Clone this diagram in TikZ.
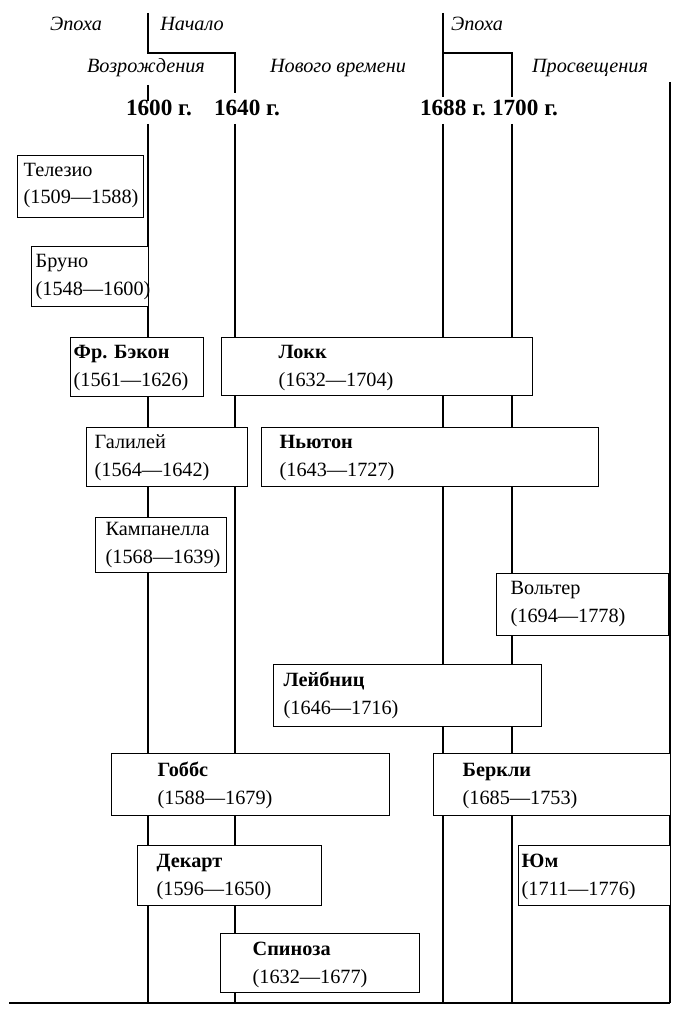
\documentclass[tikz,border=0pt]{standalone}
\usepackage{fontspec}
\setmainfont{Liberation Serif}
\usetikzlibrary{positioning}
\newlength\px
\setlength\px{0.025cm}

\begin{document}
\begin{tikzpicture}[
  x=0.025cm, y=-0.025cm,
  line width=1pt,
  pbox/.style={rectangle, draw, fill=white, anchor=north west, inner sep=0pt},
  ptext/.style={anchor=base west, align=left, inner sep=0pt, font=\fontsize{14.4}{19.9}\selectfont},
  era/.style={font=\fontsize{14.4}{17}\selectfont\itshape, inner sep=1pt},
  year/.style={font=\fontsize{16.5}{19}\selectfont\bfseries, inner sep=0pt},
]
  \useasboundingbox (0,0) rectangle (698,1024);

  % epochs
  \node[era] (ep1) at (76,24) {Эпоха};
  \node[era] (beg) at (192,24) {Начало};
  \node[era] (ren) at (146,68) {Возрождения};
  \node[era] (new) at (338,68) {Нового времени};
  \node[era] (ep2) at (477,24) {Эпоха};
  \node[era] (enl) at (590,68) {Просвещения};

  \draw (148,13) -- (148,53) -- (235,53) -- (235,93);
  \draw (148,85) -- (148,101);
  \draw (443,13) -- (443,97);
  \draw (443,53) -- (512,53) -- (512,97);

  % years
  \node[year] (y1600) at (159,108) {1600 г.};
  \node[year] (y1640) at (247,108) {1640 г.};
  \node[year] (y1688) at (453,108) {1688 г.};
  \node[year] (y1700) at (525,108) {1700 г.};

  \foreach \x in {148,235,443,512}
    \draw (\x,124) -- (\x,1003);
  \draw (670,82) -- (670,1003);
  \draw (9,1003) -- (670,1003);

  % philosophers (text placed at baseline of the dates line)
  \node[pbox, minimum width=126\px, minimum height=62\px] (telesio) at (17,155) {};
  \node[ptext] at ([shift={(6,49)}]telesio.north west) {Телезио\\(1509—1588)};

  \node[pbox, minimum width=117\px, minimum height=60\px] (bruno) at (31,246) {};
  \node[ptext] at ([shift={(4,49)}]bruno.north west) {Бруно\\(1548—1600)};

  \node[pbox, minimum width=133\px, minimum height=59\px] (bacon) at (70,337) {};
  \node[ptext] at ([shift={(3,49)}]bacon.north west) {\textbf{Фр. Бэкон}\\(1561—1626)};

  \node[pbox, minimum width=311\px, minimum height=58\px] (locke) at (221,337) {};
  \node[ptext] at ([shift={(57,49)}]locke.north west) {\textbf{Локк}\\(1632—1704)};

  \node[pbox, minimum width=161\px, minimum height=59\px] (galilei) at (86,427) {};
  \node[ptext] at ([shift={(8,49)}]galilei.north west) {Галилей\\(1564—1642)};

  \node[pbox, minimum width=337\px, minimum height=59\px] (newton) at (261,427) {};
  \node[ptext] at ([shift={(18,49)}]newton.north west) {\textbf{Ньютон}\\(1643—1727)};

  \node[pbox, minimum width=131\px, minimum height=55\px] (campanella) at (95,517) {};
  \node[ptext] at ([shift={(10,46)}]campanella.north west) {Кампанелла\\(1568—1639)};

  \node[pbox, minimum width=172\px, minimum height=62\px] (voltaire) at (496,573) {};
  \node[ptext] at ([shift={(14,49)}]voltaire.north west) {Вольтер\\(1694—1778)};

  \node[pbox, minimum width=268\px, minimum height=62\px] (leibniz) at (273,664) {};
  \node[ptext] at ([shift={(10,50)}]leibniz.north west) {\textbf{Лейбниц}\\(1646—1716)};

  \node[pbox, minimum width=278\px, minimum height=62\px] (hobbes) at (111,753) {};
  \node[ptext] at ([shift={(46,51)}]hobbes.north west) {\textbf{Гоббс}\\(1588—1679)};

  \node[pbox, minimum width=237\px, minimum height=62\px] (berkeley) at (433,753) {};
  \node[ptext] at ([shift={(29,51)}]berkeley.north west) {\textbf{Беркли}\\(1685—1753)};

  \node[pbox, minimum width=184\px, minimum height=60\px] (descartes) at (137,845) {};
  \node[ptext] at ([shift={(19,50)}]descartes.north west) {\textbf{Декарт}\\(1596—1650)};

  \node[pbox, minimum width=152\px, minimum height=60\px] (hume) at (518,845) {};
  \node[ptext] at ([shift={(3,50)}]hume.north west) {\textbf{Юм}\\(1711—1776)};

  \node[pbox, minimum width=199\px, minimum height=59\px] (spinoza) at (220,933) {};
  \node[ptext] at ([shift={(32,50)}]spinoza.north west) {\textbf{Спиноза}\\(1632—1677)};
\end{tikzpicture}
\end{document}
